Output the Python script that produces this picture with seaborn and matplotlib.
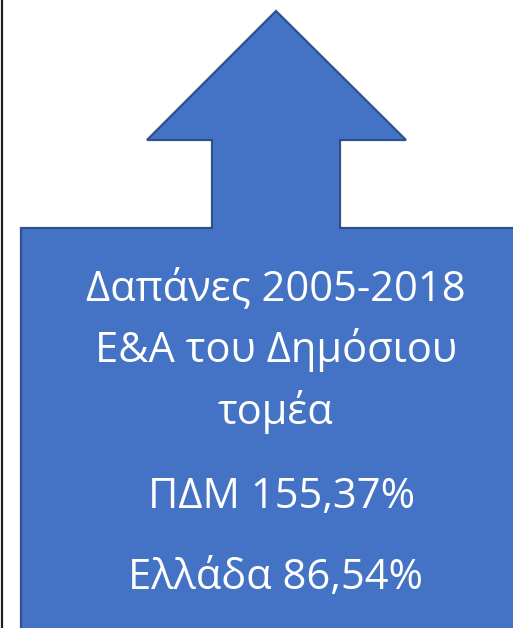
import matplotlib.pyplot as plt
import seaborn as sns
from matplotlib.patches import Polygon

sns.set_theme(style="white")
plt.rcParams['font.family'] = ['Open Sans', 'DejaVu Sans']

# texts / values
title_lines = ["Δαπάνες 2005-2018", "Ε&Α του Δημόσιου", "τομέα"]
regions = ["ΠΔΜ", "Ελλάδα"]
growth_pct = [155.37, 86.54]

FILL = "#4472C4"
EDGE = "#2F528F"

W, H = 513, 628
fig = plt.figure(figsize=(W / 100, H / 100), dpi=100)
ax = fig.add_axes([0, 0, 1, 1])
ax.set_xlim(0, W)
ax.set_ylim(H, 0)
ax.axis("off")

# arrow-on-box outline (pixel layout)
cx = 276
shape = [(21, 660), (21, 228), (212, 228), (212, 140), (147, 140), (cx, 11),
         (406, 140), (340, 140), (340, 228), (531, 228), (531, 660)]
ax.add_patch(Polygon(shape, closed=True, facecolor=FILL, edgecolor=EDGE,
                     linewidth=1.6, joinstyle="miter"))

# left page border
ax.plot([2, 2], [0, H], color="#222222", linewidth=1.6)

fs = 30
baselines = [300, 362, 424]
for line, y in zip(title_lines, baselines):
    ax.text(cx, y, line, color="white", fontsize=fs, ha="center", va="baseline")

for name, val, y in zip(regions, growth_pct, [508, 589]):
    label = f"{name} {val:.2f}%".replace(".", ",")
    dx = 6 if name == "ΠΔΜ" else 0
    ax.text(cx + dx, y, label, color="white", fontsize=fs, ha="center", va="baseline")

fig.savefig("out.png", dpi=100)
